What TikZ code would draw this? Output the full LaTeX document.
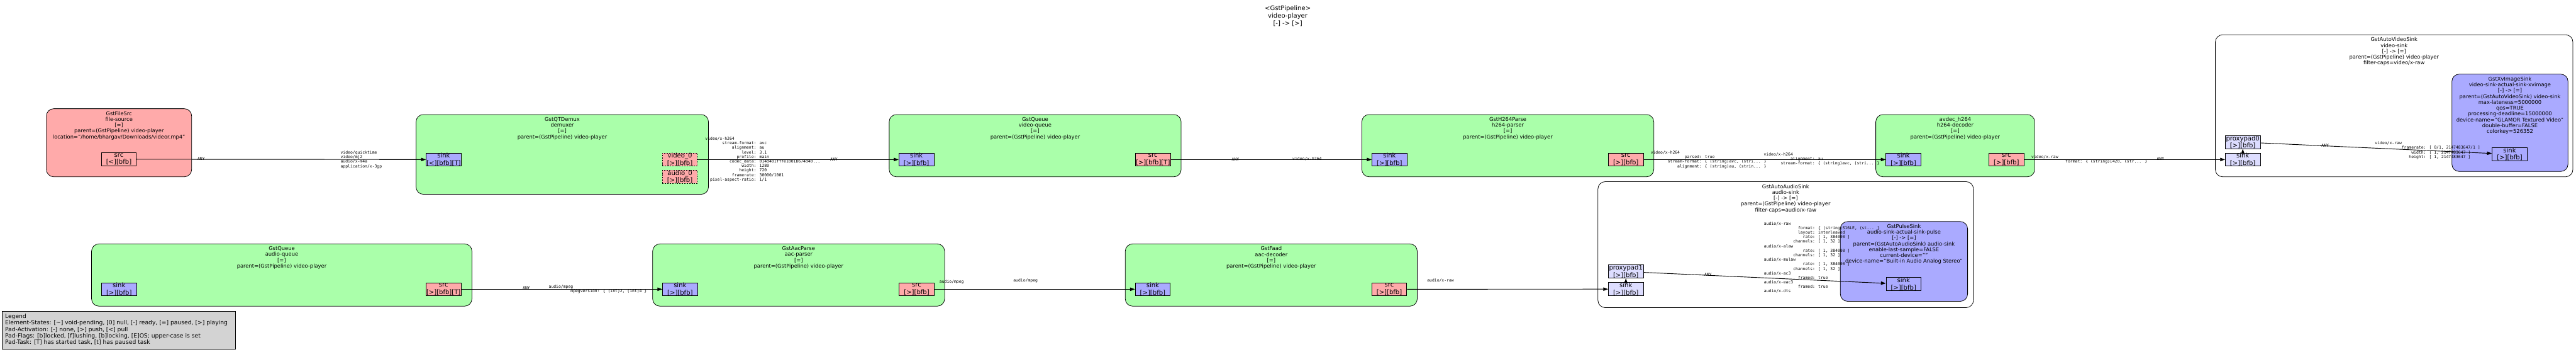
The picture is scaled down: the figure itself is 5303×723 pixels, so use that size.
\documentclass[tikz,border=0pt]{standalone}
\usepackage{fontspec}
\setmainfont{DejaVu Sans}
\newfontfamily\capsmono{DejaVu Sans Mono}
\usetikzlibrary{arrows.meta,calc}

\definecolor{srcpink}{HTML}{FFAAAA}
\definecolor{filtergreen}{HTML}{AAFFAA}
\definecolor{sinkblue}{HTML}{AAAAFF}
\definecolor{proxyblue}{HTML}{DDDDFF}
\definecolor{legendgray}{HTML}{D3D3D3}

\newcommand\elemfont{\fontsize{10.8}{12}\selectfont}
\newcommand\padfont{\fontsize{13}{15}\selectfont}
\newcommand\capsfont{\capsmono\fontsize{8.3}{9.3}\selectfont}
\newcommand\titlefont{\fontsize{13}{15.5}\selectfont}
\newcommand\legendfont{\fontsize{11.9}{13.3}\selectfont}
\newcommand\ind[1]{\hspace*{#1\fontcharwd\font`0}}

\tikzset{
  elem/.style={draw, line width=1pt, rounded corners=15pt, inner sep=0pt, anchor=north west},
  srcelem/.style={elem, fill=srcpink},
  filterelem/.style={elem, fill=filtergreen},
  sinkelem/.style={elem, fill=sinkblue},
  binbox/.style={elem, fill=white},
  elabel/.style={font=\elemfont, align=center, inner sep=0pt, anchor=north},
  pad/.style={draw, line width=1pt, font=\padfont, align=center, inner sep=0pt,
    minimum width=72pt, minimum height=27pt},
  srcpad/.style={pad, fill=srcpink},
  sinkpad/.style={pad, fill=sinkblue},
  proxypad/.style={pad, fill=proxyblue},
  sometimes/.style={dash pattern=on 2.5pt off 2.5pt},
  link/.style={line width=1.2pt, -{Triangle[length=10pt,width=7pt]}},
  caps/.style={font=\capsfont, align=left, inner sep=0pt, anchor=north west},
  capsone/.style={font=\capsfont, inner sep=0pt, anchor=west},
  toptitle/.style={font=\titlefont, align=center, inner sep=0pt, anchor=north},
  legendbox/.style={draw, line width=1pt, fill=legendgray, inner sep=0pt, anchor=north west},
  legendtext/.style={font=\legendfont, align=left, inner sep=0pt, anchor=north west}
}

\begin{document}
\begin{tikzpicture}[x=1pt,y=1pt,yscale=-1]
    \useasboundingbox (0,0) rectangle (5303,723);

    \node[toptitle] (pipeline) at (2651,11) {<GstPipeline>\\{}video-player\\{}[-] -> [>]};

    % element boxes
    \node[srcelem, minimum width=299pt, minimum height=140pt] (fsrc) at (95,223) {};
    \node[filterelem, minimum width=602pt, minimum height=164pt] (demux) at (856,235) {};
    \node[filterelem, minimum width=601pt, minimum height=128pt] (vqueue) at (1830,235) {};
    \node[filterelem, minimum width=601pt, minimum height=128pt] (hparse) at (2803,235) {};
    \node[filterelem, minimum width=327pt, minimum height=128pt] (hdec) at (3861,235) {};
    \node[binbox, minimum width=736pt, minimum height=292pt] (vsinkbin) at (4560,71) {};
    \node[sinkelem, minimum width=239pt, minimum height=200pt] (xvsink) at (5047,152) {};
    \node[filterelem, minimum width=783pt, minimum height=128pt] (aqueue) at (188,501) {};
    \node[filterelem, minimum width=601pt, minimum height=128pt] (aparse) at (1343,501) {};
    \node[filterelem, minimum width=601pt, minimum height=128pt] (adec) at (2316,501) {};
    \node[binbox, minimum width=773pt, minimum height=259pt] (asinkbin) at (3289,373) {};
    \node[sinkelem, minimum width=262pt, minimum height=164pt] (pulse) at (3788,455) {};

    % element labels
    \node[elabel] (fsrc_lbl) at ($(fsrc.north)+(0,5.7)$) {GstFileSrc\\{}file-source\\{}[=]\\{}parent=(GstPipeline) video-player\\{}location="/home/bhargav/Downloads/videor.mp4"};
    \node[elabel] (demux_lbl) at ($(demux.north)+(0,5.7)$) {GstQTDemux\\{}demuxer\\{}[=]\\{}parent=(GstPipeline) video-player};
    \node[elabel] (vqueue_lbl) at ($(vqueue.north)+(0,5.7)$) {GstQueue\\{}video-queue\\{}[=]\\{}parent=(GstPipeline) video-player};
    \node[elabel] (hparse_lbl) at ($(hparse.north)+(0,5.7)$) {GstH264Parse\\{}h264-parser\\{}[=]\\{}parent=(GstPipeline) video-player};
    \node[elabel] (hdec_lbl) at ($(hdec.north)+(0,5.7)$) {avdec\_h264\\{}h264-decoder\\{}[=]\\{}parent=(GstPipeline) video-player};
    \node[elabel] (vsinkbin_lbl) at ($(vsinkbin.north)+(0,5.7)$) {GstAutoVideoSink\\{}video-sink\\{}[-] -> [=]\\{}parent=(GstPipeline) video-player\\{}filter-caps=video/x-raw};
    \node[elabel] (xvsink_lbl) at ($(xvsink.north)+(0,5.7)$) {GstXvImageSink\\{}video-sink-actual-sink-xvimage\\{}[-] -> [=]\\{}parent=(GstAutoVideoSink) video-sink\\{}max-lateness=5000000\\{}qos=TRUE\\{}processing-deadline=15000000\\{}device-name="GLAMOR Textured Video"\\{}double-buffer=FALSE\\{}colorkey=526352};
    \node[elabel] (aqueue_lbl) at ($(aqueue.north)+(0,5.7)$) {GstQueue\\{}audio-queue\\{}[=]\\{}parent=(GstPipeline) video-player};
    \node[elabel] (aparse_lbl) at ($(aparse.north)+(0,5.7)$) {GstAacParse\\{}aac-parser\\{}[=]\\{}parent=(GstPipeline) video-player};
    \node[elabel] (adec_lbl) at ($(adec.north)+(0,5.7)$) {GstFaad\\{}aac-decoder\\{}[=]\\{}parent=(GstPipeline) video-player};
    \node[elabel] (asinkbin_lbl) at ($(asinkbin.north)+(0,5.7)$) {GstAutoAudioSink\\{}audio-sink\\{}[-] -> [=]\\{}parent=(GstPipeline) video-player\\{}filter-caps=audio/x-raw};
    \node[elabel] (pulse_lbl) at ($(pulse.north)+(0,5.7)$) {GstPulseSink\\{}audio-sink-actual-sink-pulse\\{}[-] -> [=]\\{}parent=(GstAutoAudioSink) audio-sink\\{}enable-last-sample=FALSE\\{}current-device=""\\{}device-name="Built-in Audio Analog Stereo"};

    % pads
    \node[srcpad] (fsrc_src) at (244.7,327.5) {src\\{}[<][bfb]};
    \node[sinkpad] (demux_sink) at (913.3,328) {sink\\{}[<][bfb][T]};
    \node[srcpad, sometimes] (demux_video) at (1399.6,328) {video\_0\\{}[>][bfb]};
    \node[srcpad, sometimes] (demux_audio) at (1399.6,363.7) {audio\_0\\{}[>][bfb]};
    \node[sinkpad] (vqueue_sink) at (1886.5,328) {sink\\{}[>][bfb]};
    \node[srcpad] (vqueue_src) at (2373.5,328) {src\\{}[>][bfb][T]};
    \node[sinkpad] (hparse_sink) at (2860.4,328) {sink\\{}[>][bfb]};
    \node[srcpad] (hparse_src) at (3347,328) {src\\{}[>][bfb]};
    \node[sinkpad] (hdec_sink) at (3918.5,328) {sink\\{}[>][bfb]};
    \node[srcpad] (hdec_src) at (4130.5,328) {src\\{}[>][bfb]};
    \node[proxypad] (vsink_sink) at (4617,328) {sink\\{}[>][bfb]};
    \node[proxypad] (vsink_proxy) at (4617,292.2) {proxypad0\\{}[>][bfb]};
    \node[sinkpad] (xvsink_sink) at (5166.4,317.2) {sink\\{}[>][bfb]};
    \node[sinkpad] (aqueue_sink) at (245,594.7) {sink\\{}[>][bfb]};
    \node[srcpad] (aqueue_src) at (913,594.7) {src\\{}[>][bfb][T]};
    \node[sinkpad] (aparse_sink) at (1400,594.7) {sink\\{}[>][bfb]};
    \node[srcpad] (aparse_src) at (1887,594.7) {src\\{}[>][bfb]};
    \node[sinkpad] (adec_sink) at (2373,594.7) {sink\\{}[>][bfb]};
    \node[srcpad] (adec_src) at (2860,594.7) {src\\{}[>][bfb]};
    \node[proxypad] (asink_sink) at (3347,594.5) {sink\\{}[>][bfb]};
    \node[proxypad] (asink_proxy) at (3347,558.4) {proxypad1\\{}[>][bfb]};
    \node[sinkpad] (pulse_sink) at (3918.6,584.2) {sink\\{}[>][bfb]};

    % links
    \draw[link] (fsrc_src.east) -- (demux_sink.west);
    \draw[link] (demux_video.east) -- (vqueue_sink.west);
    \draw[link] (vqueue_src.east) -- (hparse_sink.west);
    \draw[link] (hparse_src.east) -- (hdec_sink.west);
    \draw[link] (hdec_src.east) -- (vsink_sink.west);
    \draw[link] (vsink_sink) -- (vsink_proxy);
    \draw[link] (vsink_proxy) -- (xvsink_sink);
    \draw[link] (aqueue_src.east) -- (aparse_sink.west);
    \draw[link] (aparse_src.east) -- (adec_sink.west);
    \draw[link] (adec_src.east) -- (asink_sink.west);
    \draw[link] (asink_sink) -- (asink_proxy);
    \draw[link] (asink_proxy) -- (pulse_sink);

    % caps
    \node[capsone] (fsrc_caps) at (406.5,327) {ANY};
    \node[caps] (demux_sinkcaps) at (701,310) {video/quicktime\\video/mj2\\audio/x-m4a\\application/x-3gp};
    \node[caps] (demux_videocaps) at (1451.7,281.7) {video/x-h264\\
      \ind{7}stream-format: avc\\
      \ind{11}alignment: au\\
      \ind{15}level: 3.1\\
      \ind{13}profile: main\\
      \ind{10}codec\_data: 014d401fffe1001b674d40...\\
      \ind{15}width: 1280\\
      \ind{14}height: 720\\
      \ind{11}framerate: 30000/1001\\
      \ind{2}pixel-aspect-ratio: 1/1};
    \node[capsone] (vqueue_sinkcaps) at (1709,327.3) {ANY};
    \node[capsone] (vqueue_srccaps) at (2535.6,327.3) {ANY};
    \node[capsone] (hparse_sinkcaps) at (2660.6,327) {video/x-h264};
    \node[caps] (hparse_srccaps) at (3398,310) {video/x-h264\\
      \ind{14}parsed: true\\
      \ind{7}stream-format: \{ (string)avc, (stri... \}\\
      \ind{11}alignment: \{ (string)au, (strin... \}};
    \node[caps] (hdec_sinkcaps) at (3630.8,314) {video/x-h264\\
      \ind{11}alignment: au\\
      \ind{7}stream-format: \{ (string)avc, (stri... \}};
    \node[caps] (hdec_srccaps) at (4181.8,319) {video/x-raw\\
      \ind{14}format: \{ (string)I420, (str... \}};
    \node[capsone] (vsink_sinkcaps) at (4440,326.7) {ANY};
    \node[capsone] (vsink_proxycaps) at (4779,299) {ANY};
    \node[caps] (xvsink_sinkcaps) at (4889,291) {video/x-raw\\
      \ind{11}framerate: [ 0/1, 2147483647/1 ]\\
      \ind{15}width: [ 1, 2147483647 ]\\
      \ind{14}height: [ 1, 2147483647 ]};
    \node[capsone] (aqueue_srccaps) at (1076,592.3) {ANY};
    \node[caps] (aparse_sinkcaps) at (1129.6,586) {audio/mpeg\\
      \ind{9}mpegversion: \{ (int)2, (int)4 \}};
    \node[caps] (aparse_srccaps) at (1934,575.7) {audio/mpeg};
    \node[caps] (adec_sinkcaps) at (2086,572.7) {audio/mpeg};
    \node[caps] (adec_srccaps) at (2937.8,572.7) {audio/x-raw};
    \node[capsone] (asink_proxycaps) at (3508.5,565) {ANY};
    \node[caps] (pulse_sinkcaps) at (3631.3,456) {audio/x-raw\\
      \ind{14}format: \{ (string)S16LE, (st... \}\\
      \ind{14}layout: interleaved\\
      \ind{16}rate: [ 1, 384000 ]\\
      \ind{12}channels: [ 1, 32 ]\\
      audio/x-alaw\\
      \ind{16}rate: [ 1, 384000 ]\\
      \ind{12}channels: [ 1, 32 ]\\
      audio/x-mulaw\\
      \ind{16}rate: [ 1, 384000 ]\\
      \ind{12}channels: [ 1, 32 ]\\
      audio/x-ac3\\
      \ind{14}framed: true\\
      audio/x-eac3\\
      \ind{14}framed: true\\
      audio/x-dts};

    % legend
    \node[legendbox, minimum width=480pt, minimum height=78pt] (legend) at (4,639) {};
    \node[legendtext] (legend_txt) at (10.3,645.3) {Legend\\
      Element-States: [\textasciitilde] void-pending, [0] null, [-] ready, [=] paused, [>] playing\\
      Pad-Activation: [-] none, [>] push, [<] pull\\
      Pad-Flags: [b]locked, [f]lushing, [b]locking, [E]OS; upper-case is set\\
      Pad-Task: [T] has started task, [t] has paused task};
\end{tikzpicture}
\end{document}
